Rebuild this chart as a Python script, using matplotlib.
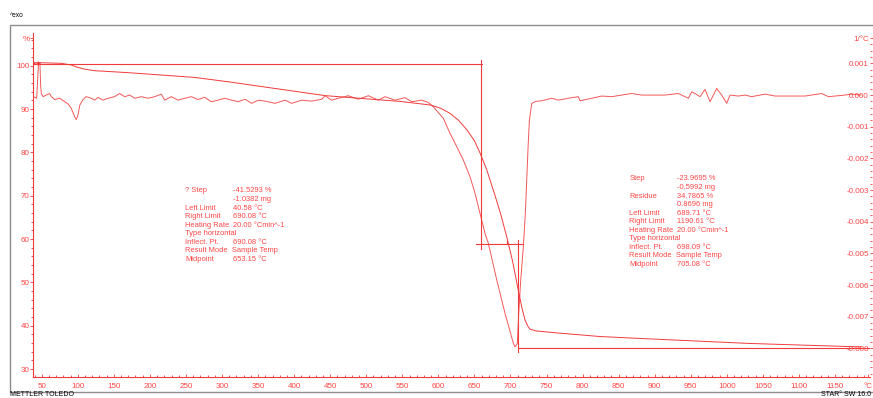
import numpy as np
import matplotlib
matplotlib.use('Agg')
import matplotlib.pyplot as plt
from matplotlib.patches import Rectangle
from matplotlib.ticker import MultipleLocator

# TGA curve: sample temperature (°C) vs. mass (%)
tga_temp = [38.0, 47.0, 77.2, 91.0, 100.3, 109.6, 123.5, 169.7, 215.9, 262.0,
            308.3, 442.8, 547.4, 589.0, 603.0, 616.2, 628.0, 639.5, 650.0, 657.9,
            667.0, 676.2, 686.0, 694.8, 703.0, 710.8, 716.0, 720.2, 724.0, 727.1,
            735.0, 760.0, 824.2, 900.0, 1032.2, 1186.0]
tga_pct = [100.7, 100.7, 100.55, 100.16, 99.6, 99.2, 98.85, 98.4, 97.85, 97.3,
           96.3, 93.1, 91.75, 90.93, 90.2, 89.0, 87.4, 85.2, 82.7, 79.8,
           76.0, 71.3, 66.0, 60.5, 54.8, 48.2, 44.0, 41.3, 39.9, 39.2,
           38.8, 38.4, 37.5, 36.9, 35.9, 35.1]

# DTG curve: sample temperature (°C) vs. derivative (1e-3 1/°C)
dtg_temp = [38.5, 43.0, 44.5, 45.5, 47.5, 48.5, 49.5, 51.8, 56.4, 61.0,
            63.4, 68.0, 75.0, 81.9, 86.5, 91.0, 95.8, 98.0, 100.3, 102.7,
            107.3, 111.8, 118.8, 123.5, 128.0, 135.0, 142.0, 151.0, 158.0, 165.0,
            172.0, 179.0, 188.0, 197.4, 206.7, 215.8, 220.5, 229.7, 239.0, 248.3,
            257.4, 266.7, 276.0, 285.0, 294.5, 303.7, 313.5, 322.6, 331.9, 341.0,
            350.3, 359.6, 373.5, 387.4, 396.7, 410.5, 424.4, 438.3, 442.8, 452.0,
            461.3, 475.0, 489.0, 503.0, 516.7, 526.0, 540.0, 553.8, 563.0, 577.0,
            586.0, 593.0, 607.0, 616.2, 625.5, 634.6, 643.9, 650.8, 657.8, 664.7,
            669.3, 681.0, 692.4, 704.0, 706.3, 709.5, 711.4, 714.2, 717.8, 720.6,
            722.5, 724.4, 726.2, 729.5, 735.0, 743.3, 757.2, 766.3, 780.2, 794.0,
            796.4, 812.6, 826.5, 840.4, 854.2, 868.0, 882.0, 895.8, 914.3, 932.7,
            946.6, 951.3, 955.8, 962.8, 969.7, 976.7, 985.9, 992.9, 999.8, 1004.4,
            1015.9, 1025.2, 1034.5, 1053.0, 1066.8, 1084.3, 1108.4, 1131.6, 1140.7, 1163.8,
            1173.0, 1186.0]
dtg_milli = [-0.05, -0.10, 0.60, 1.00, 1.00, 0.30, 0.05, -0.05, 0.00, 0.05,
             -0.05, -0.14, -0.10, -0.21, -0.28, -0.42, -0.69, -0.77, -0.63, -0.32,
             -0.14, -0.05, -0.10, -0.16, -0.07, -0.16, -0.10, -0.05, 0.05, -0.05,
             0.00, -0.10, -0.05, -0.10, -0.05, 0.03, -0.16, -0.05, -0.16, -0.10,
             -0.05, -0.14, -0.07, -0.21, -0.16, -0.10, -0.16, -0.21, -0.13, -0.26,
             -0.16, -0.19, -0.26, -0.16, -0.26, -0.16, -0.19, -0.13, -0.02, -0.16,
             -0.10, -0.02, -0.13, -0.02, -0.16, -0.05, -0.16, -0.08, -0.21, -0.16,
             -0.23, -0.37, -0.74, -1.21, -1.63, -2.05, -2.58, -3.10, -3.74, -4.37,
             -4.68, -5.84, -6.89, -7.84, -7.95, -7.84, -6.89, -5.84, -4.79, -3.74,
             -2.68, -1.63, -0.79, -0.26, -0.20, -0.18, -0.10, -0.16, -0.10, -0.05,
             -0.18, -0.10, -0.03, -0.05, 0.00, 0.05, 0.00, 0.00, 0.00, 0.05,
             -0.10, 0.10, 0.05, -0.05, 0.18, -0.21, 0.21, 0.00, -0.26, 0.00,
             -0.03, 0.00, -0.05, 0.03, -0.03, -0.03, -0.03, 0.05, -0.05, 0.00,
             0.03, 0.00]

# step evaluation construction lines (temperature, %)
step_top = 100.3          # upper plateau
step_mid = 58.8           # after first step
step_res = 34.85          # residue
step1_x = 659.5           # first vertical marker
step2_x = 710.8           # second vertical marker
step_mark = 695.5         # inflection tick

# axis ticks / labels
x_ticks = list(range(50, 1151, 50))
x_labels = [str(t) for t in x_ticks]
y_ticks = [30, 40, 50, 60, 70, 80, 90, 100]
y_labels = [str(t) for t in y_ticks]
y2_ticks = [-0.008, -0.007, -0.006, -0.005, -0.004, -0.003, -0.002, -0.001, 0.0, 0.001]
y2_labels = ['-0.008', '-0.007', '-0.006', '-0.005', '-0.004', '-0.003',
             '-0.002', '-0.001', '0.000', '0.001']

block1 = [('? Step', '-41.5293 %'), ('', '-1.0382 mg'), ('Left Limit', '40.58 °C'),
          ('Right Limit', '690.08 °C'), ('Heating Rate', '20.00 °Cmin^-1'),
          ('Type horizontal', ''), ('Inflect. Pt.', '690.08 °C'),
          ('Result Mode  Sample Temp', ''), ('Midpoint', '653.15 °C')]
block2 = [('Step', '-23.9695 %'), ('', '-0.5992 mg'), ('Residue', '34.7865 %'),
          ('', '0.8696 mg'), ('Left Limit', '689.71 °C'), ('Right Limit', '1190.61 °C'),
          ('Heating Rate', '20.00 °Cmin^-1'), ('Type horizontal', ''),
          ('Inflect. Pt.', '698.09 °C'), ('Result Mode  Sample Temp', ''),
          ('Midpoint', '705.08 °C')]

# ─── styling ──────────────────────────────────────────────────────────────────
RED = '#f23a3a'
TXT = '#ff4545'
W, H = 873, 398
plt.rcParams['font.family'] = ['Liberation Sans', 'DejaVu Sans']

fig = plt.figure(figsize=(W / 100, H / 100), dpi=100)
ax = fig.add_axes([33 / W, (H - 377) / H, (870 - 33) / W, (377 - 33) / H])
ax2 = ax.twinx()

ax.plot(tga_temp, tga_pct, color=RED, lw=0.7)
ax2.plot(dtg_temp, np.array(dtg_milli) * 1e-3, color=RED, lw=0.7, alpha=0.85)

# evaluation lines
lk = dict(color=RED, lw=0.8)
ax.plot([38.0, step1_x + 1], [step_top, step_top], **lk)
ax.plot([step1_x, step1_x], [101.3, 57.8], **lk)
ax.plot([652.0, 718.0], [step_mid, step_mid], **lk)
ax.plot([step_mark, step_mark], [step_mid, step_mid + 0.7], **lk)
ax.plot([step2_x, step2_x], [59.7, 33.9], **lk)
ax.plot([step2_x, 1198.0], [step_res, step_res], **lk)
ax.plot([38.5, 45.0], [100.6, 100.6], '+', color=RED, ms=3, mew=0.7)

ax.set_xlim(37.9, 1198.5)
ax.set_ylim(28.16, 107.55)
ax2.set_ylim(-0.0089, 0.00196)

for sp in ['top', 'right']:
    ax.spines[sp].set_visible(False)
    ax2.spines[sp].set_visible(False)
ax2.spines['left'].set_visible(False)
ax2.spines['bottom'].set_visible(False)
ax.spines['left'].set_color(RED)
ax.spines['bottom'].set_color(RED)
ax.spines['left'].set_linewidth(0.8)
ax.spines['bottom'].set_linewidth(0.8)

ax.set_xticks(x_ticks + [1196], x_labels + ['°C'])
ax.xaxis.set_minor_locator(MultipleLocator(10))
ax.set_yticks(y_ticks + [106.3], y_labels + ['%'])
ax.yaxis.set_minor_locator(MultipleLocator(2))
ax2.set_yticks(y2_ticks + [0.0018], y2_labels + ['1/°C'])
ax2.yaxis.set_minor_locator(MultipleLocator(0.0002))

ax.tick_params(axis='x', which='both', direction='in', color=RED, labelcolor=TXT,
               labelsize=5.8, pad=4.0, width=0.6)
ax.tick_params(axis='x', which='major', length=2.5)
ax.tick_params(axis='x', which='minor', length=1.8)
ax.tick_params(axis='y', which='both', direction='out', color=RED, labelcolor=TXT,
               labelsize=5.8, pad=0.3, width=0.6)
ax.tick_params(axis='y', which='major', length=2.2)
ax.tick_params(axis='y', which='minor', length=1.4)
ax2.tick_params(axis='y', which='both', direction='out', color=RED, labelcolor=TXT,
                labelsize=5.8, width=0.6)
ax2.tick_params(axis='y', which='major', length=2.2, pad=-3.0)
ax2.tick_params(axis='y', which='minor', length=1.4)
for lbl in ax2.get_yticklabels():
    lbl.set_ha('right')

# result blocks
def put_block(rows, x_lab, x_val, y0, dy=8.54):
    for i, (lab, val) in enumerate(rows):
        y = 1 - (y0 + i * dy) / H
        fig.text(x_lab / W, y, lab, color=TXT, fontsize=5.4, va='center', ha='left')
        if val:
            fig.text(x_val / W, y, val, color=TXT, fontsize=5.4, va='center', ha='left')

put_block(block1, 185, 232.7, 191.0)
put_block(block2, 629.3, 676.7, 179.0)

# frame and footer
fig.patches.append(Rectangle((10 / W, 1 - 392 / H), 880 / W, (392 - 25) / H,
                             transform=fig.transFigure, fill=False,
                             edgecolor='#8c8c8c', lw=1.0))
fig.text(10 / W, 1 - 15.5 / H, '^exo', fontsize=4.8, color='black', va='center')
fig.text(10 / W, 1 - 397.5 / H, 'METTLER TOLEDO', fontsize=5.0, color='black', va='bottom')
fig.text(871 / W, 1 - 397.5 / H, 'STAR° SW 16.0', fontsize=5.0, color='black',
         va='bottom', ha='right')

fig.savefig('out.png', dpi=100)
